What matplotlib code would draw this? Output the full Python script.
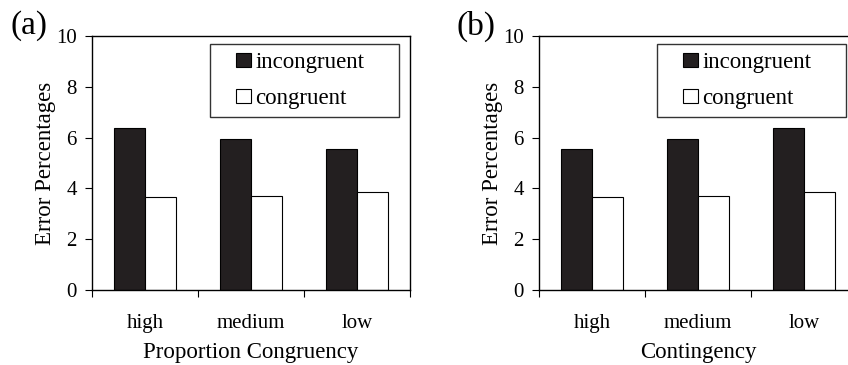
import matplotlib
matplotlib.use("Agg")
import matplotlib.pyplot as plt
from matplotlib.patches import Patch, Rectangle
from matplotlib.legend_handler import HandlerPatch

# Data
levels = ["high", "medium", "low"]
incong_a = [6.39, 5.96, 5.54]
cong_a = [3.67, 3.72, 3.86]
incong_b = [5.54, 5.96, 6.39]
cong_b = [3.67, 3.72, 3.86]
series_names = ["incongruent", "congruent"]
panel_tags = ["(a)", "(b)"]
x_titles = ["Proportion Congruency", "Contingency"]

plt.rcParams["font.family"] = ["Liberation Serif", "DejaVu Serif"]
plt.rcParams["axes.linewidth"] = 1.0

W, H = 848, 365
fig = plt.figure(figsize=(W / 100, H / 100), dpi=100)

SQ = 10.5  # legend square side, points


def square_at_right(legend, orig_handle, xdescent, ydescent, width, height, fontsize):
    # small square pushed against the text side of the handle box
    return Rectangle((width - SQ - xdescent, -ydescent + (height - SQ) / 2), SQ, SQ)


def draw_panel(left_px, incong, cong, tag, xtitle):
    ax = fig.add_axes([left_px / W, (H - 290) / H, 318 / W, 254 / H])
    bw = 0.295
    centers = [i + 0.5 for i in range(len(levels))]
    ax.bar([c - bw / 2 for c in centers], incong, bw, color="#231f20",
           edgecolor="black", linewidth=0.8)
    ax.bar([c + bw / 2 for c in centers], cong, bw, color="white",
           edgecolor="black", linewidth=0.8)
    ax.set_xlim(0, len(levels))
    ax.set_ylim(0, 10)
    ax.set_yticks(range(0, 11, 2))
    ax.set_xticks(range(len(levels) + 1))
    ax.set_xticklabels([])
    ax.set_xticks(centers, minor=True)
    ax.set_xticklabels(levels, minor=True)
    ax.tick_params(axis="x", which="minor", length=0, pad=17, labelsize=15)
    ax.tick_params(axis="x", which="major", length=5, direction="out")
    ax.tick_params(axis="y", length=5, direction="out", pad=6, labelsize=15)
    ax.set_xlabel(xtitle, fontsize=16.5, labelpad=7)
    ax.set_ylabel("Error Percentages", fontsize=16.5, labelpad=0)

    handles = [Patch(facecolor="#231f20", edgecolor="black", linewidth=0.8),
               Patch(facecolor="white", edgecolor="black", linewidth=0.8)]
    hmap = {h: HandlerPatch(patch_func=square_at_right) for h in handles}
    leg = ax.legend(handles, series_names, loc="upper left",
                    bbox_to_anchor=(0.371, 0.0, 0.594, 0.9685), mode="expand",
                    borderaxespad=0.0, fontsize=16.5, frameon=True,
                    fancybox=False, handler_map=hmap, handlelength=1.45,
                    handleheight=0.7, handletextpad=0.2, borderpad=0.34,
                    labelspacing=0.66)
    leg.get_frame().set_edgecolor("black")
    leg.get_frame().set_linewidth(1.0)

    fig.text((left_px - 82) / W, 1 - 26 / H, tag, fontsize=24,
             va="center", ha="left")
    return ax


draw_panel(92, incong_a, cong_a, panel_tags[0], x_titles[0])
draw_panel(539, incong_b, cong_b, panel_tags[1], x_titles[1])

fig.savefig("out.png", dpi=100)
